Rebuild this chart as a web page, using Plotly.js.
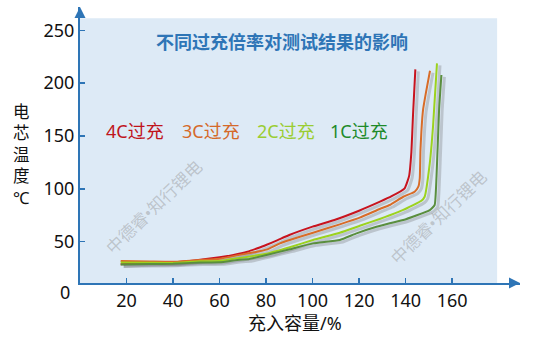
<!DOCTYPE html>
<html>
<head>
<meta charset="utf-8">
<script src="https://cdn.plot.ly/plotly-3.0.1.min.js"></script>
<style>html,body{margin:0;padding:0;background:#fff;}#chart{width:554px;height:346px;}</style>
</head>
<body>
<div id="chart"></div>
<script>
// ---- data ----
const seriesNames = ["4C过充", "3C过充", "2C过充", "1C过充"];
const x4C = [17.5, 25, 40, 50, 60, 66, 72, 76, 80, 85, 90, 100, 110, 120, 129, 134, 139.6, 141.5, 142.5, 143.2, 144.2];
const y4C = [28.7, 29.3, 30.6, 32.5, 35.2, 37.5, 40.5, 43.5, 46.8, 51.5, 56.3, 64.2, 71, 79.3, 87.8, 93, 100.5, 112, 135, 170, 213];
const x3C = [17.5, 30, 40, 51.5, 60, 68.7, 75, 80.2, 86, 90.2, 100.2, 111.7, 120.3, 128.9, 133.2, 139, 143.9, 145.5, 146.1, 146.4, 147.5, 148.7, 150.5];
const y3C = [31.7, 31.2, 30.9, 32.6, 33.8, 37.5, 40, 42.5, 48.4, 51.6, 58.5, 66.4, 72.7, 80.9, 84.7, 92.5, 97.3, 102, 110, 136.7, 174.5, 190.3, 211.7];
const x2C = [17.5, 30, 40, 51.5, 60, 68.7, 80.2, 90.2, 100.2, 111.7, 120.3, 128.9, 133.2, 139, 146.8, 148.2, 150.4, 151.8, 153.5];
const y2C = [30.3, 30, 29.8, 31.4, 31.7, 34.5, 38.5, 44.7, 51.6, 58.5, 65, 71.5, 75, 80, 88.7, 92.5, 124.1, 158.8, 218.7];
const x1C = [17.5, 30, 40, 51.5, 60, 68.7, 72, 80.2, 90.2, 100.2, 111.7, 118.9, 127.5, 133.2, 139, 150.4, 152.5, 153.3, 154.4, 155.4];
const y1C = [28.4, 28.8, 29.1, 30.3, 30.5, 33, 33.3, 37.4, 42.8, 48.4, 51.6, 57.9, 64.1, 67.4, 70.5, 79.9, 84.7, 111.4, 174.5, 207.7];
const xTicks = [20, 40, 60, 80, 100, 120, 140, 160];
const yTicks = [50, 100, 150, 200, 250];
const lineColors = ["#C8141E", "#D86C28", "#9CD21E", "#5A8E3E"];
const labelColors = ["#C0141C", "#D5692A", "#9ACD32", "#1E8A2A"];
const chartTitle = "不同过充倍率对测试结果的影响";
const yTitle = "电<br>芯<br>温<br>度<br>℃";
const xTitle = "充入容量/%";
const watermark = "中德睿•知行锂电";

const xs = [x4C, x3C, x2C, x1C];
const ys = [y4C, y3C, y2C, y1C];

const FONT = "Noto Sans, Noto Sans CJK SC, sans-serif";
const xRange = [0, 189.2];
const yRange = [10.9, 272];
const pxX = 2.326, pxY = 1.057;
const AX = "#2E75B6";

const traces = [];
// shadows (base axes, range shifted by a few pixels)
for (let i = 0; i < 4; i++) {
  traces.push({x: xs[i], y: ys[i], xaxis: "x", yaxis: "y", type: "scatter", mode: "lines",
    line: {color: "rgba(110,110,110,0.30)", width: 3, shape: "spline", smoothing: 0.4},
    hoverinfo: "skip", showlegend: false});
}
for (let i = 0; i < 4; i++) {
  traces.push({x: xs[i], y: ys[i], xaxis: "x2", yaxis: "y2", type: "scatter", mode: "lines",
    name: seriesNames[i], line: {color: lineColors[i], width: 2, shape: "spline", smoothing: 0.4},
    showlegend: false});
}

const annotations = [
  {text: "<b>" + chartTitle + "</b>", xref: "paper", yref: "paper", x: 0.459, y: 0.874, showarrow: false,
   xanchor: "center", yanchor: "middle", font: {family: FONT, size: 18, color: AX}},
  {text: yTitle, xref: "paper", yref: "paper", x: -0.134, y: 0.464, showarrow: false,
   xanchor: "center", yanchor: "middle", font: {family: FONT, size: 16.5, color: "#111"}},
  {text: "0", xref: "paper", yref: "paper", x: -0.0193, y: -0.034, showarrow: false,
   xanchor: "right", yanchor: "middle", font: {family: FONT, size: 18, color: "#111"}},
  {text: xTitle, xref: "paper", yref: "paper", x: 0.489, y: -0.145, showarrow: false,
   xanchor: "center", yanchor: "middle", font: {family: FONT, size: 18, color: "#111"}},
  {text: watermark, xref: "paper", yref: "paper", x: 0.166, y: 0.275, showarrow: false, textangle: -44,
   xanchor: "center", yanchor: "middle", font: {family: FONT, size: 17, color: "rgba(150,150,150,0.45)"}},
  {text: watermark, xref: "paper", yref: "paper", x: 0.814, y: 0.237, showarrow: false, textangle: -44,
   xanchor: "center", yanchor: "middle", font: {family: FONT, size: 17, color: "rgba(150,150,150,0.45)"}},
  // axis arrows
  {xref: "paper", yref: "paper", x: 1, y: 0, ax: -12, ay: 0, text: "", showarrow: true,
   arrowhead: 2, arrowsize: 1.1, arrowwidth: 2, arrowcolor: AX, standoff: 0},
  {xref: "paper", yref: "paper", x: 0, y: 1, ax: 0, ay: 12, text: "", showarrow: true,
   arrowhead: 2, arrowsize: 1.1, arrowwidth: 2, arrowcolor: AX, standoff: 0}
];
const labelX = [0.125, 0.298, 0.468, 0.635];
for (let i = 0; i < 4; i++) {
  annotations.push({text: seriesNames[i], xref: "paper", yref: "paper", x: labelX[i], y: 0.552,
    showarrow: false, xanchor: "center", yanchor: "middle",
    font: {family: FONT, size: 18, color: labelColors[i]}});
}

const layout = {
  width: 554, height: 346,
  margin: {l: 80, r: 34, t: 7, b: 63, pad: 0},
  paper_bgcolor: "#ffffff", plot_bgcolor: "rgba(0,0,0,0)",
  showlegend: false,
  font: {family: FONT, color: "#111"},
  xaxis: {range: [xRange[0] - 3 / pxX, xRange[1] - 3 / pxX], visible: false, fixedrange: true},
  yaxis: {range: [yRange[0] + 2 / pxY, yRange[1] + 2 / pxY], visible: false, fixedrange: true},
  xaxis2: {overlaying: "x", anchor: "y2", side: "bottom", range: xRange, showgrid: false, zeroline: false,
    showline: true, linecolor: AX, linewidth: 2, ticks: "inside", ticklen: 5, tickwidth: 1.5, tickcolor: AX,
    tickvals: xTicks, ticktext: xTicks.map(String), tickfont: {family: FONT, size: 18, color: "#111"}},
  yaxis2: {overlaying: "y", anchor: "x2", side: "left", range: yRange, showgrid: false, zeroline: false,
    showline: true, linecolor: AX, linewidth: 2, ticks: "inside", ticklen: 5, tickwidth: 1.5, tickcolor: AX,
    tickvals: yTicks, ticktext: yTicks.map(String), tickfont: {family: FONT, size: 18, color: "#111"}},
  shapes: [
    {type: "rect", xref: "paper", yref: "paper", x0: 0, x1: 0.948, y0: 0, y1: 0.959,
     fillcolor: "#DDEAF6", line: {width: 0}, layer: "below"}
  ],
  annotations: annotations
};

Plotly.newPlot("chart", traces, layout, {staticPlot: true, displayModeBar: false});
</script>
</body>
</html>
